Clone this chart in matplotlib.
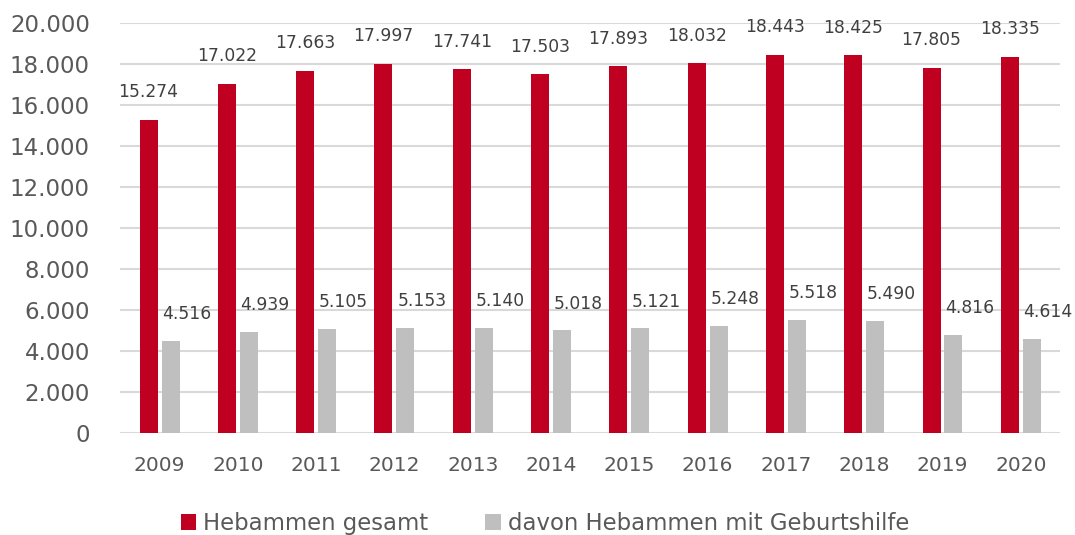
import matplotlib.pyplot as plt
import numpy as np

plt.rcParams["font.family"] = ["DejaVu Sans"]

# Daten
jahre = ["2009", "2010", "2011", "2012", "2013", "2014",
         "2015", "2016", "2017", "2018", "2019", "2020"]
gesamt = [15274, 17022, 17663, 17997, 17741, 17503,
          17893, 18032, 18443, 18425, 17805, 18335]
geburtshilfe = [4516, 4939, 5105, 5153, 5140, 5018,
                5121, 5248, 5518, 5490, 4816, 4614]

rot = "#C00021"
grau = "#BFBFBF"
text_farbe = "#595959"

def fmt(v):
    return f"{v:,}".replace(",", ".")

fig = plt.figure(figsize=(10.75, 5.35), dpi=100)
ax = fig.add_axes([0.112, 0.19, 0.874, 0.767])

x = np.arange(len(jahre))
w = 0.23
b1 = ax.bar(x - 0.14, gesamt, width=w, color=rot, label="Hebammen gesamt", zorder=3)
b2 = ax.bar(x + 0.14, geburtshilfe, width=w, color=grau,
            label="davon Hebammen mit Geburtshilfe", zorder=3)

# Datenbeschriftungen
for xi, v in zip(x, gesamt):
    ax.text(xi - 0.14, v + 1350, fmt(v), ha="center", va="center",
            fontsize=12.3, color="#404040", clip_on=False)
for xi, v in zip(x, geburtshilfe):
    ax.text(xi + 0.35, v + 1300, fmt(v), ha="center", va="center",
            fontsize=12.3, color="#404040")

ax.set_xlim(-0.5, 11.5)
ax.set_ylim(0, 20000)
ax.set_yticks(range(0, 20001, 2000))
ax.set_yticklabels([fmt(v) for v in range(0, 20001, 2000)])
ax.set_xticks(x)
ax.set_xticklabels(jahre)

ax.grid(axis="y", color="#D9D9D9", linewidth=1.5, zorder=0)
for s in ax.spines.values():
    s.set_visible(False)
ax.tick_params(axis="y", length=0, pad=22, labelsize=16.5, labelcolor=text_farbe)
ax.tick_params(axis="x", length=0, pad=16, labelsize=14.5, labelcolor=text_farbe)

fig.legend(handles=[b1, b2], loc="lower center", bbox_to_anchor=(0.507, -0.038),
           ncol=2, frameon=False, fontsize=16.4, handlelength=0.7, handleheight=0.7,
           handletextpad=0.3, columnspacing=2.5, labelcolor=text_farbe)

plt.savefig("out.png", dpi=100)
